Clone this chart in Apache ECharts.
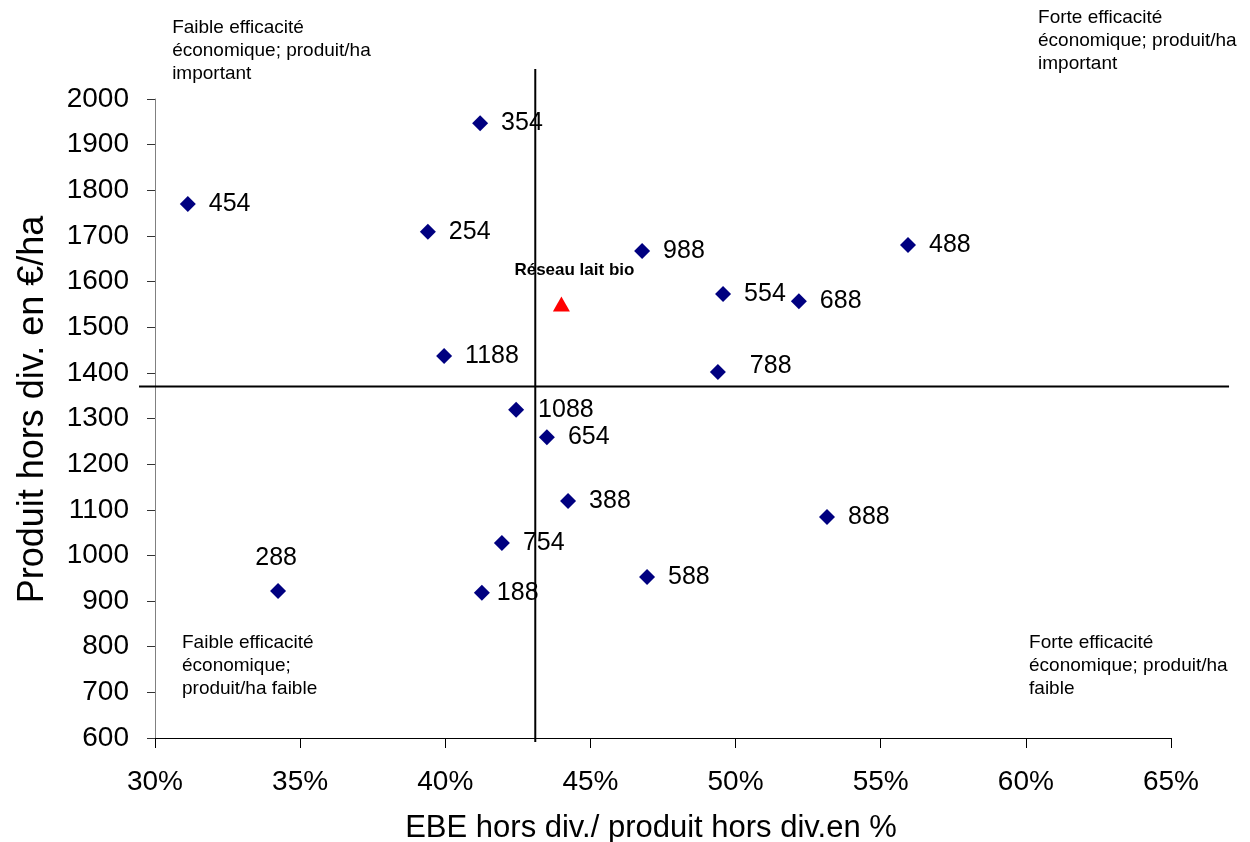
<!DOCTYPE html>
<html>
<head>
<meta charset="utf-8">
<script src="https://cdn.jsdelivr.net/npm/echarts@6/dist/echarts.min.js"></script>
<style>
html,body{margin:0;padding:0;background:#fff;}
#chart{width:1250px;height:842px;}
</style>
</head>
<body>
<div id="chart"></div>
<script>
// Farm codes (labels) and their values
const farmLabels = ['354','454','254','988','488','554','688','1188','788','1088','654','388','888','754','588','288','188'];
const ebeRatio   = [41.2, 31.13, 39.4, 46.78, 55.94, 49.57, 52.18, 39.96, 49.39, 42.44, 43.5, 44.23, 53.15, 41.95, 46.95, 34.24, 41.26];
const produitHa  = [1947, 1770, 1709, 1667, 1680, 1573, 1557, 1437, 1402, 1319, 1259, 1119, 1084, 1027, 953, 922, 918];

// Network reference point
const reseauLabel = 'Réseau lait bio';
const reseauX = 44.0;
const reseauY = 1551;

// Crosshair (averages) and their extents
const avgX = 43.1;
const avgY = 1370;
const vLineY = [591, 2066];
const hLineX = [29.45, 67.0];

// Axis ticks
const xTicks = [30, 35, 40, 45, 50, 55, 60, 65];
const yTicks = [600, 700, 800, 900, 1000, 1100, 1200, 1300, 1400, 1500, 1600, 1700, 1800, 1900, 2000];

// Quadrant notes
const noteTexts = [
  'Faible efficacité\néconomique; produit/ha\nimportant',
  'Forte efficacité\néconomique; produit/ha\nimportant',
  'Faible efficacité\néconomique;\nproduit/ha faible',
  'Forte efficacité\néconomique; produit/ha\nfaible'
];
const noteX = [30.59, 60.42, 30.93, 60.11];
const noteY = [2105, 2127, 758, 758];

const FONT = '"Liberation Sans", Arial, Helvetica, sans-serif';

const labelStyles = {
  '288': {position: 'top', distance: 12, offset: [-2, 0]},
  '188': {position: 'right', distance: 7},
  '1088': {position: 'right', distance: 14},
  '788': {position: 'right', distance: 24, offset: [0, -6]}
};

const farmData = farmLabels.map((lab, i) => {
  const d = {value: [ebeRatio[i], produitHa[i]], name: lab};
  if (labelStyles[lab]) d.label = labelStyles[lab];
  return d;
});

// Segments of the crosshair, in data units
const crossSegments = [
  [avgX, vLineY[0], avgX, vLineY[1]],
  [hLineX[0], avgY, hLineX[1], avgY]
];

const chart = echarts.init(document.getElementById('chart'), null, {renderer: 'canvas'});
chart.setOption({
  animation: false,
  backgroundColor: '#fff',
  grid: {left: 155, right: 79, top: 99, bottom: 104, containLabel: false, outerBoundsMode: 'none'},
  xAxis: {
    type: 'value',
    min: xTicks[0], max: xTicks[xTicks.length - 1], interval: 5,
    name: 'EBE hors div./ produit hors div.en %',
    nameLocation: 'middle',
    nameGap: 75,
    nameTextStyle: {fontFamily: FONT, fontSize: 31, color: '#000', padding: [0, 24, 0, 0]},
    axisLine: {lineStyle: {color: '#000', width: 1}},
    axisTick: {show: true, length: 10, inside: false, lineStyle: {color: '#000'}},
    axisLabel: {formatter: '{value}%', fontFamily: FONT, fontSize: 28, color: '#000', margin: 30},
    splitLine: {show: false}
  },
  yAxis: {
    type: 'value',
    min: yTicks[0], max: yTicks[yTicks.length - 1], interval: 100,
    name: 'Produit hors div. en €/ha',
    nameLocation: 'middle',
    nameGap: 104,
    nameTextStyle: {fontFamily: FONT, fontSize: 36, color: '#000', padding: [0, 0, 0, 18]},
    axisLine: {show: true, lineStyle: {color: '#808080', width: 1}},
    axisTick: {show: true, length: 8, lineStyle: {color: '#333'}},
    axisLabel: {formatter: v => String(v), fontFamily: FONT, fontSize: 28, color: '#000', margin: 26},
    splitLine: {show: false}
  },
  series: [
    {
      name: 'crosshair',
      type: 'custom',
      data: crossSegments,
      clip: false,
      silent: true,
      z: 1,
      encode: {x: [0, 2], y: [1, 3]},
      renderItem: (params, api) => {
        const p1 = api.coord([api.value(0), api.value(1)]);
        const p2 = api.coord([api.value(2), api.value(3)]);
        return {
          type: 'line',
          shape: {x1: p1[0], y1: p1[1], x2: p2[0], y2: p2[1]},
          style: {stroke: '#000', lineWidth: 2}
        };
      }
    },
    {
      name: 'farms',
      type: 'scatter',
      data: farmData,
      symbol: 'diamond',
      symbolSize: 16,
      itemStyle: {color: '#000080', opacity: 1},
      clip: false,
      z: 3,
      label: {
        show: true,
        position: 'right',
        distance: 13,
        formatter: p => p.name,
        fontFamily: FONT,
        fontSize: 25,
        color: '#000'
      }
    },
    {
      name: 'reseau',
      type: 'scatter',
      data: [{value: [reseauX, reseauY], name: reseauLabel}],
      symbol: 'triangle',
      symbolSize: [17, 15],
      itemStyle: {color: '#ff0000', opacity: 1},
      clip: false,
      z: 3,
      label: {
        show: true,
        position: 'top',
        distance: 18,
        offset: [13, 0],
        formatter: p => p.name,
        fontFamily: FONT,
        fontSize: 17,
        fontWeight: 'bold',
        color: '#000'
      }
    },
    {
      name: 'notes',
      type: 'scatter',
      data: noteTexts.map((t, i) => ({value: [noteX[i], noteY[i]], name: t})),
      symbolSize: 0,
      itemStyle: {opacity: 1},
      clip: false,
      silent: true,
      z: 2,
      label: {
        show: true,
        position: 'right',
        distance: 0,
        align: 'left',
        verticalAlign: 'middle',
        formatter: p => p.name,
        fontFamily: FONT,
        fontSize: 19,
        lineHeight: 23,
        color: '#000'
      }
    }
  ]
});
</script>
</body>
</html>
